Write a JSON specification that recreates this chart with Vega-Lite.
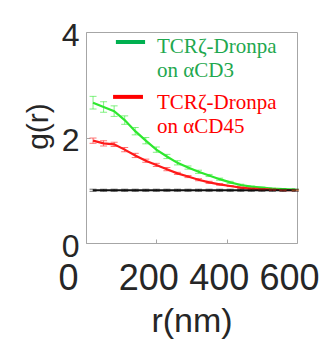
{
  "$schema": "https://vega.github.io/schema/vega-lite/v6.json",
  "width": 211,
  "height": 211,
  "autosize": {"type": "none"},
  "padding": {"left": 86, "top": 32, "right": 28, "bottom": 100},
  "background": "white",
  "config": {
    "view": {"stroke": "#a6a6a6", "strokeWidth": 1},
    "axis": {"grid": false, "domain": false}
  },
  "datasets": {
    "curves": [
      {"r": 20, "g": 2.66, "err": 0.12, "series": "CD3"},
      {"r": 50, "g": 2.58, "err": 0.1, "series": "CD3"},
      {"r": 80, "g": 2.5, "err": 0.1, "series": "CD3"},
      {"r": 110, "g": 2.33, "err": 0.08, "series": "CD3"},
      {"r": 140, "g": 2.12, "err": 0.07, "series": "CD3"},
      {"r": 170, "g": 1.94, "err": 0.06, "series": "CD3"},
      {"r": 200, "g": 1.77, "err": 0.05, "series": "CD3"},
      {"r": 230, "g": 1.64, "err": 0.04, "series": "CD3"},
      {"r": 260, "g": 1.52, "err": 0.04, "series": "CD3"},
      {"r": 290, "g": 1.43, "err": 0.03, "series": "CD3"},
      {"r": 320, "g": 1.35, "err": 0.03, "series": "CD3"},
      {"r": 350, "g": 1.28, "err": 0.02, "series": "CD3"},
      {"r": 380, "g": 1.21, "err": 0.02, "series": "CD3"},
      {"r": 410, "g": 1.15, "err": 0.02, "series": "CD3"},
      {"r": 440, "g": 1.1, "err": 0.015, "series": "CD3"},
      {"r": 470, "g": 1.07, "err": 0.01, "series": "CD3"},
      {"r": 500, "g": 1.05, "err": 0.01, "series": "CD3"},
      {"r": 530, "g": 1.03, "err": 0.01, "series": "CD3"},
      {"r": 560, "g": 1.02, "err": 0.01, "series": "CD3"},
      {"r": 595, "g": 1.01, "err": 0.01, "series": "CD3"},
      {"r": 20, "g": 1.94, "err": 0.05, "series": "CD45"},
      {"r": 50, "g": 1.89, "err": 0.05, "series": "CD45"},
      {"r": 80, "g": 1.87, "err": 0.04, "series": "CD45"},
      {"r": 110, "g": 1.77, "err": 0.04, "series": "CD45"},
      {"r": 140, "g": 1.66, "err": 0.04, "series": "CD45"},
      {"r": 170, "g": 1.56, "err": 0.03, "series": "CD45"},
      {"r": 200, "g": 1.48, "err": 0.03, "series": "CD45"},
      {"r": 230, "g": 1.4, "err": 0.03, "series": "CD45"},
      {"r": 260, "g": 1.32, "err": 0.02, "series": "CD45"},
      {"r": 290, "g": 1.26, "err": 0.02, "series": "CD45"},
      {"r": 320, "g": 1.2, "err": 0.02, "series": "CD45"},
      {"r": 350, "g": 1.15, "err": 0.02, "series": "CD45"},
      {"r": 380, "g": 1.11, "err": 0.015, "series": "CD45"},
      {"r": 410, "g": 1.08, "err": 0.01, "series": "CD45"},
      {"r": 440, "g": 1.05, "err": 0.01, "series": "CD45"},
      {"r": 470, "g": 1.03, "err": 0.01, "series": "CD45"},
      {"r": 500, "g": 1.02, "err": 0.01, "series": "CD45"},
      {"r": 530, "g": 1.01, "err": 0.01, "series": "CD45"},
      {"r": 560, "g": 1.0, "err": 0.01, "series": "CD45"},
      {"r": 595, "g": 1.0, "err": 0.01, "series": "CD45"},
      {"r": 20, "g": 1.0, "err": 0.02, "series": "ctrl"},
      {"r": 50, "g": 1.0, "err": 0.02, "series": "ctrl"},
      {"r": 80, "g": 1.0, "err": 0.02, "series": "ctrl"},
      {"r": 110, "g": 1.0, "err": 0.02, "series": "ctrl"},
      {"r": 140, "g": 1.0, "err": 0.02, "series": "ctrl"},
      {"r": 170, "g": 1.0, "err": 0.02, "series": "ctrl"},
      {"r": 200, "g": 1.0, "err": 0.02, "series": "ctrl"},
      {"r": 230, "g": 1.0, "err": 0.02, "series": "ctrl"},
      {"r": 260, "g": 1.0, "err": 0.02, "series": "ctrl"},
      {"r": 290, "g": 1.0, "err": 0.02, "series": "ctrl"},
      {"r": 320, "g": 1.0, "err": 0.02, "series": "ctrl"},
      {"r": 350, "g": 1.0, "err": 0.02, "series": "ctrl"},
      {"r": 380, "g": 1.0, "err": 0.02, "series": "ctrl"},
      {"r": 410, "g": 1.0, "err": 0.02, "series": "ctrl"},
      {"r": 440, "g": 1.0, "err": 0.02, "series": "ctrl"},
      {"r": 470, "g": 1.0, "err": 0.02, "series": "ctrl"},
      {"r": 500, "g": 1.0, "err": 0.02, "series": "ctrl"},
      {"r": 530, "g": 1.0, "err": 0.02, "series": "ctrl"},
      {"r": 560, "g": 1.0, "err": 0.02, "series": "ctrl"},
      {"r": 595, "g": 1.0, "err": 0.02, "series": "ctrl"}
    ],
    "legendLines": [
      {"r": 85, "r2": 168, "g": 3.81, "series": "CD3"},
      {"r": 77, "r2": 162, "g": 2.77, "series": "CD45"}
    ],
    "legendText": [
      {"r": 202, "g": 3.6, "label": "TCRζ-Dronpa", "series": "CD3"},
      {"r": 202, "g": 3.15, "label": "on αCD3", "series": "CD3"},
      {"r": 202, "g": 2.54, "label": "TCRζ-Dronpa", "series": "CD45"},
      {"r": 202, "g": 2.09, "label": "on αCD45", "series": "CD45"}
    ]
  },
  "layer": [
    {
      "data": {"name": "curves"},
      "mark": {"type": "line", "strokeWidth": 2.2},
      "encoding": {
        "x": {
          "field": "r", "type": "quantitative",
          "scale": {"domain": [0, 600], "nice": false, "zero": false},
          "title": "r(nm)",
          "axis": {
            "values": [0, 200, 400, 600], "format": "d",
            "labelFont": "Liberation Sans", "labelFontSize": 36, "labelColor": "#262626",
            "labelPadding": 22, "labelFlush": false, "labelOverlap": false, "labelBound": false,
            "labelOffset": {"condition": {"test": "datum.value === 0", "value": -18}, "value": -8},
            "tickSize": -4, "tickColor": "#a6a6a6",
            "titleFont": "Liberation Sans", "titleFontSize": 34, "titleFontWeight": "normal",
            "titleColor": "#262626", "titlePadding": 8
          }
        },
        "y": {
          "field": "g", "type": "quantitative",
          "scale": {"domain": [0, 4], "nice": false, "zero": false},
          "title": "g(r)",
          "axis": {
            "values": [0, 2, 4], "format": "d",
            "labelFont": "Liberation Sans", "labelFontSize": 32, "labelColor": "#262626",
            "labelPadding": 11, "labelFlush": false, "labelOverlap": false, "labelBound": false,
            "labelOffset": 3,
            "tickSize": -4, "tickColor": "#a6a6a6",
            "titleFont": "Liberation Sans", "titleFontSize": 30, "titleFontWeight": "normal",
            "titleColor": "#262626", "titlePadding": 8, "titleY": 94
          }
        },
        "color": {
          "field": "series", "type": "nominal", "legend": null,
          "scale": {"domain": ["ctrl", "CD45", "CD3"], "range": ["#111111", "#ff1a1a", "#2ee82e"]}
        },
        "order": {"field": "r", "type": "quantitative"}
      }
    },
    {
      "data": {"name": "curves"},
      "mark": {"type": "errorbar", "ticks": {"size": 7, "opacity": 0.6}, "rule": {"opacity": 0.6}},
      "encoding": {
        "x": {"field": "r", "type": "quantitative", "title": "r(nm)"},
        "y": {"field": "g", "type": "quantitative", "title": "g(r)"},
        "yError": {"field": "err"},
        "color": {"field": "series", "type": "nominal", "legend": null}
      }
    },
    {
      "data": {"name": "legendLines"},
      "transform": [{"filter": "datum.series === 'CD3'"}],
      "mark": {"type": "rule", "strokeWidth": 4, "color": "#00b050"},
      "encoding": {
        "x": {"field": "r", "type": "quantitative", "title": "r(nm)"},
        "x2": {"field": "r2"},
        "y": {"field": "g", "type": "quantitative", "title": "g(r)"}
      }
    },
    {
      "data": {"name": "legendLines"},
      "transform": [{"filter": "datum.series === 'CD45'"}],
      "mark": {"type": "rule", "strokeWidth": 4, "color": "#ff0000"},
      "encoding": {
        "x": {"field": "r", "type": "quantitative", "title": "r(nm)"},
        "x2": {"field": "r2"},
        "y": {"field": "g", "type": "quantitative", "title": "g(r)"}
      }
    },
    {
      "data": {"name": "legendText"},
      "mark": {"type": "text", "font": "Liberation Serif", "fontSize": 21, "fontWeight": "normal", "align": "left", "baseline": "alphabetic"},
      "encoding": {
        "x": {"field": "r", "type": "quantitative", "title": "r(nm)"},
        "y": {"field": "g", "type": "quantitative", "title": "g(r)"},
        "text": {"field": "label"},
        "color": {"condition": {"test": "datum.series === 'CD3'", "value": "#1fa84f"}, "value": "#ff0000"}
      }
    }
  ]
}
